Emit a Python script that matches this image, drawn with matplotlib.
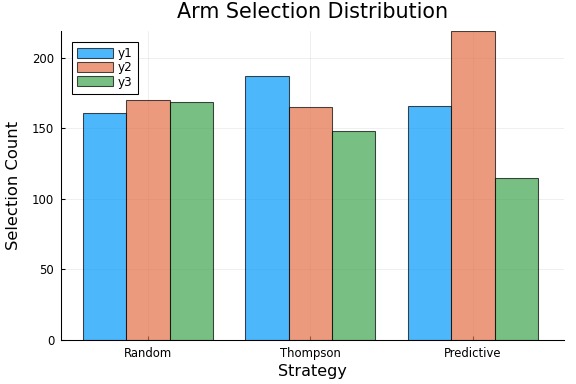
import numpy as np
import matplotlib.pyplot as plt

strategies = ['Random', 'Thompson', 'Predictive']
y1 = [161, 187, 166]
y2 = [170, 165, 219]
y3 = [169, 148, 115]
series = {'y1': y1, 'y2': y2, 'y3': y3}
colors = ['#009AFA', '#E36F47', '#3EA44E']

fig = plt.figure(figsize=(6, 4), dpi=96)
ax = fig.add_axes([61 / 576, 44 / 384, 503 / 576, 309 / 384])

x = np.arange(1, len(strategies) + 1)
w = 0.8 / 3
for i, (name, vals) in enumerate(series.items()):
    ax.bar(x + (i - 1) * w, vals, width=w, color=colors[i], alpha=0.7,
           edgecolor='black', linewidth=0.8, label=name, zorder=2)

ax.set_xlim(0.465, 3.56)
ax.set_ylim(0, 219)
ax.set_xticks(x)
ax.set_xticklabels(strategies)
ax.set_yticks([0, 50, 100, 150, 200])
ax.tick_params(labelsize=8.7, length=3, width=0.8, direction='in', pad=5)
ax.grid(True, color='black', alpha=0.08, linewidth=0.6, zorder=0)
for s in ['top', 'right']:
    ax.spines[s].set_visible(False)
ax.set_xlabel('Strategy', fontsize=12, labelpad=3)
ax.set_ylabel('Selection Count', fontsize=12.3, labelpad=8)
fig.text(312.5 / 576, 1 - 12 / 384, 'Arm Selection Distribution',
         fontsize=15.5, ha='center', va='center')

leg = ax.legend(loc='upper left', fontsize=9, fancybox=False, framealpha=1,
                edgecolor='black', borderaxespad=0.9, handlelength=3.0,
                handleheight=0.9, handletextpad=0.4, labelspacing=0.1,
                borderpad=0.45)
leg.get_frame().set_linewidth(0.8)

plt.savefig('out.png')
